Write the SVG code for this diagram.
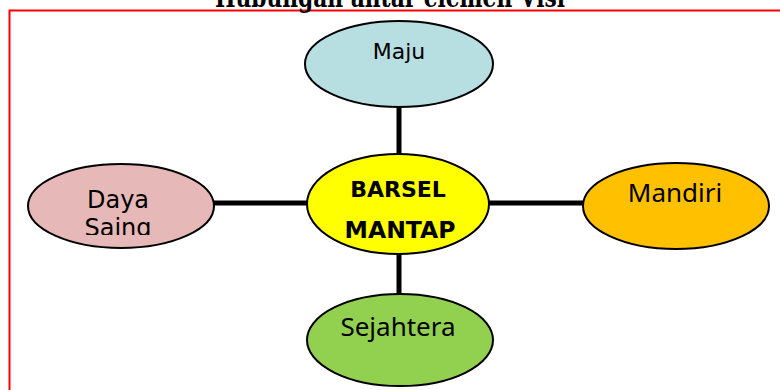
<svg xmlns="http://www.w3.org/2000/svg" width="780" height="390" viewBox="0 0 780 390">
<style>
.node{stroke:#000;stroke-width:2}
.conn{stroke:#000;stroke-width:5;fill:none}
.g{font-family:"DejaVu Sans",sans-serif;fill:#000;text-anchor:middle}
.c{font-family:"Noto Sans","Open Sans",sans-serif;fill:#000;text-anchor:middle}
.b{font-family:"DejaVu Sans",sans-serif;font-weight:bold;fill:#000;text-anchor:middle}
</style>
<defs>
<clipPath id="dsclip"><rect x="28" y="160" width="190" height="75"/></clipPath>
</defs>
<rect width="780" height="390" fill="#fff"/>
<rect x="9.5" y="10.5" width="800" height="400" fill="none" stroke="#ff0000" stroke-width="2"/>
<text x="390" y="7" font-family="'DejaVu Serif',serif" font-weight="bold" font-size="28" text-anchor="middle" textLength="350" lengthAdjust="spacingAndGlyphs">Hubungan antar elemen Visi</text>
<g id="connectors">
<line class="conn" x1="399" y1="108" x2="399" y2="155"/>
<line class="conn" x1="399" y1="253" x2="399" y2="295"/>
<line class="conn" x1="214" y1="203" x2="307" y2="203"/>
<line class="conn" x1="489" y1="203" x2="584" y2="203"/>
</g>
<g id="maju">
<ellipse class="node" cx="399" cy="64" rx="94" ry="43" fill="#B7DEE1"/>
<text class="g" x="399" y="59" font-size="22">Maju</text>
</g>
<g id="daya-saing">
<ellipse class="node" cx="121" cy="206" rx="93" ry="42" fill="#E6B8B7"/>
<g clip-path="url(#dsclip)">
<text class="g" x="118" y="208" font-size="24">Daya</text>
<text class="g" x="118" y="236" font-size="24">Saing</text>
</g>
</g>
<g id="barsel-mantap">
<ellipse class="node" cx="398" cy="204" rx="91" ry="50" fill="#FFFF00"/>
<text class="b" x="398" y="197" font-size="22">BARSEL</text>
<text class="b" x="400" y="238" font-size="23.5">MANTAP</text>
</g>
<g id="mandiri">
<ellipse class="node" cx="676" cy="206" rx="93" ry="43" fill="#FFC000"/>
<text class="c" x="675" y="202" font-size="26">Mandiri</text>
</g>
<g id="sejahtera">
<ellipse class="node" cx="400" cy="340" rx="93" ry="46" fill="#92D050"/>
<text class="c" x="398" y="336" font-size="26">Sejahtera</text>
</g>
</svg>
